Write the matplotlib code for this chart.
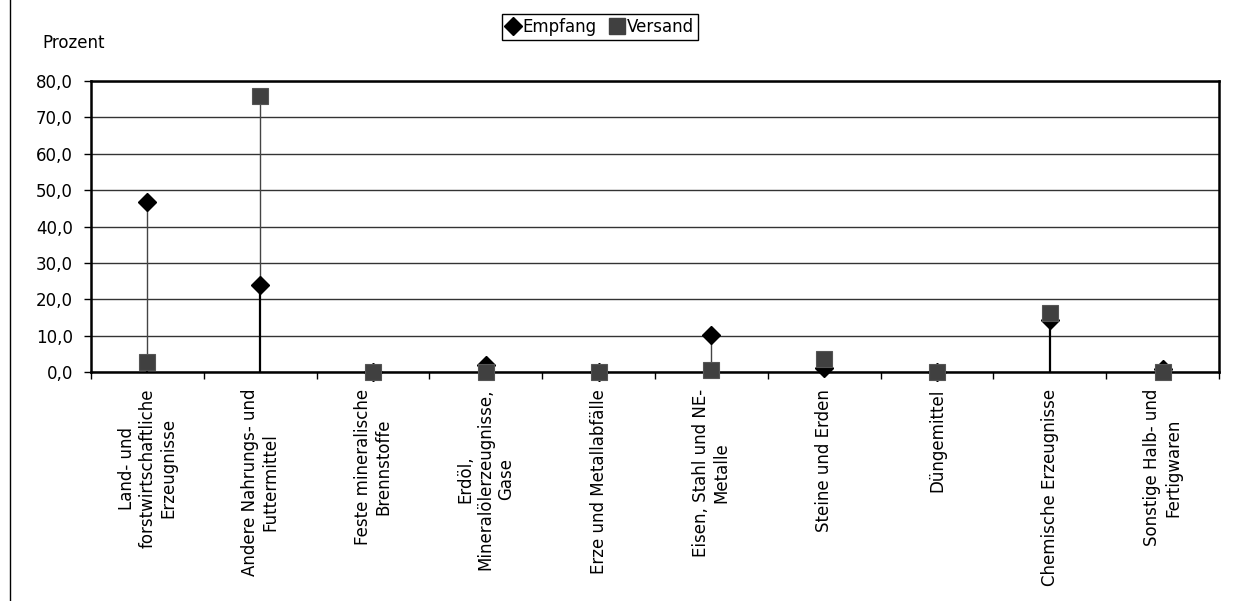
import numpy as np
import matplotlib
matplotlib.use("Agg")
import matplotlib.pyplot as plt
from matplotlib.lines import Line2D
from matplotlib.ticker import FuncFormatter

plt.rcParams['font.family'] = ['DejaVu Sans']

categories = [
    "Land- und\nforstwirtschaftliche\nErzeugnisse",
    "Andere Nahrungs- und\nFuttermittel",
    "Feste mineralische\nBrennstoffe",
    "Erdöl,\nMineralölerzeugnisse,\nGase",
    "Erze und Metallabfälle",
    "Eisen, Stahl und NE-\nMetalle",
    "Steine und Erden",
    "Düngemittel",
    "Chemische Erzeugnisse",
    "Sonstige Halb- und\nFertigwaren",
]
empfang = [46.8, 23.9, 0.0, 2.0, 0.0, 10.3, 1.2, 0.0, 14.2, 0.8]
versand = [2.7, 75.9, 0.1, 0.1, 0.1, 0.5, 3.7, 0.1, 16.2, 0.1]

W, H = 1239, 601
fig = plt.figure(figsize=(W / 100, H / 100), dpi=100)
ax = fig.add_axes([91 / W, 1 - 372 / H, 1128 / W, 291 / H])

x = np.arange(len(categories))
e = np.array(empfang)
v = np.array(versand)
lo = np.minimum(e, v)
hi = np.maximum(e, v)

# high-low lines and drop lines
ax.vlines(x, lo, hi, color='#444444', lw=1.0, zorder=3)
ax.vlines(x, 0, lo, color='black', lw=1.6, zorder=3)

ax.plot(x, e, ls='none', marker='D', ms=8.8, color='black', zorder=4, clip_on=False)
ax.plot(x, v, ls='none', marker='s', ms=11, color='#404040', mec='#555555', mew=0.8,
        zorder=5, clip_on=False)

ax.set_xlim(-0.5, len(categories) - 0.5)
ax.set_ylim(0, 80)
ax.set_yticks(np.arange(0, 81, 10))
ax.yaxis.set_major_formatter(FuncFormatter(lambda val, pos: f"{val:.1f}".replace('.', ',')))
ax.set_xticks(x)
ax.set_xticklabels(categories, rotation=90, ha='center', va='top', multialignment='center')
ax.set_xticks(np.arange(-0.5, len(categories)), minor=True)
ax.tick_params(axis='x', which='major', length=0, pad=12, labelsize=12)
ax.tick_params(axis='x', which='minor', length=5, width=1, direction='out')
ax.tick_params(axis='y', length=5, width=1, direction='out', pad=8, labelsize=12)

ax.grid(axis='y', color='#333333', lw=1.0)
ax.set_axisbelow(True)
for s in ax.spines.values():
    s.set_linewidth(1.8)
    s.set_color('black')

fig.text(42 / W, 1 - 43 / H, "Prozent", fontsize=12, ha='left', va='center')

handles = [
    Line2D([], [], ls='none', marker='D', ms=9, color='black'),
    Line2D([], [], ls='none', marker='s', ms=11, color='#404040'),
]
leg = fig.legend(handles, ["Empfang", "Versand"], loc='center',
                 bbox_to_anchor=(600 / W, 1 - 27 / H), ncol=2, fontsize=12,
                 frameon=True, fancybox=False, edgecolor='black', framealpha=1,
                 handlelength=0.8, handletextpad=0.2, columnspacing=0.8,
                 borderpad=0.25, borderaxespad=0)
leg.get_frame().set_linewidth(1.0)

fig.add_artist(Line2D([10 / W, 10 / W], [0, 1], transform=fig.transFigure, color='black', lw=1))

fig.savefig("out.png", dpi=100)
